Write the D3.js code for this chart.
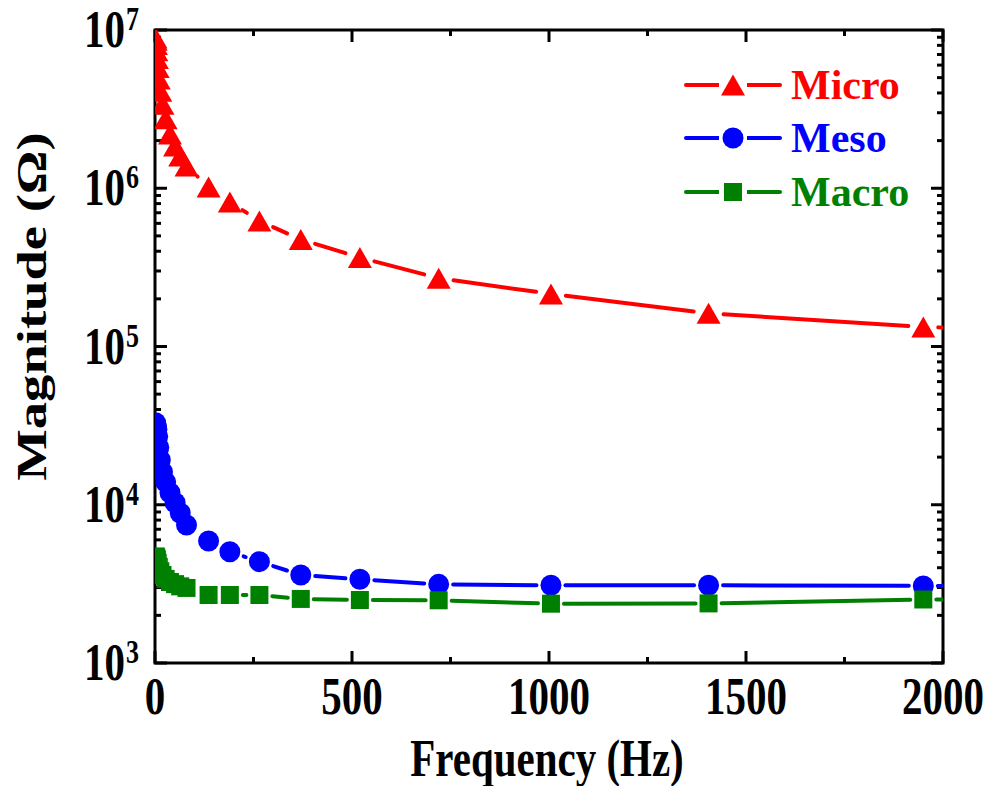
<!DOCTYPE html>
<html>
<head>
<meta charset="utf-8">
<script src="https://cdn.jsdelivr.net/npm/d3@7"></script>
<style>
  html, body { margin: 0; padding: 0; background: #fff; }
  svg text { font-family: "Liberation Serif", "Times New Roman", serif; font-weight: bold; }
</style>
</head>
<body>
<svg id="chart" width="985" height="786"></svg>
<script>
// frequency (Hz) of each measurement; last point lies past the axis end
const freq  = [1.2, 1.7, 2.4, 3.4, 4.8, 6.8, 9.6, 13.5, 19, 27, 38, 51, 64, 80,
               136, 190, 265, 370, 520, 720, 1005, 1405, 1950, 2750];
const micro = [8.9e6, 8.6e6, 8.1e6, 7.4e6, 6.6e6, 5.8e6, 4.9e6, 4.1e6, 3.4e6, 2.75e6, 2.2e6, 1.85e6, 1.6e6, 1.38e6,
               1.02e6, 8.2e5, 6.2e5, 4.75e5, 3.65e5, 2.7e5, 2.15e5, 1.62e5, 1.33e5, 1.15e5];
const meso  = [3.3e4, 3.25e4, 3.2e4, 3.1e4, 3.0e4, 2.7e4, 2.3e4, 1.92e4, 1.61e4, 1.39e4, 1.19e4, 1.03e4, 8.87e3, 7.45e3,
               5.9e3, 5.05e3, 4.37e3, 3.6e3, 3.38e3, 3.14e3, 3.10e3, 3.10e3, 3.07e3, 3.03e3];
const macro = [4.7e3, 4.7e3, 4.65e3, 4.6e3, 4.5e3, 4.3e3, 4.05e3, 3.8e3, 3.6e3, 3.4e3, 3.25e3, 3.15e3, 3.05e3, 2.98e3,
               2.69e3, 2.69e3, 2.69e3, 2.54e3, 2.50e3, 2.49e3, 2.37e3, 2.38e3, 2.52e3, 2.56e3];

const seriesNames = ['Micro', 'Meso', 'Macro'];
const xTicks = [0, 500, 1000, 1500, 2000];
const yExps  = [3, 4, 5, 6, 7];

const series = [
    { name: seriesNames[0], values: micro, color: '#ff0000', shape: 'triangle' },
    { name: seriesNames[1], values: meso,  color: '#0000ff', shape: 'circle' },
    { name: seriesNames[2], values: macro, color: '#008000', shape: 'square' },
];

const L = 155, R = 943, T = 30, B = 663;
const STRETCH = 1.3;   // axis text is drawn tall and narrow

const svg = d3.select('#chart');
const x = d3.scaleLinear().domain([0, 2000]).range([L, R]);
const y = d3.scaleLog().domain([1e3, 1e7]).range([B, T]);

svg.append('clipPath').attr('id', 'plot-clip')
    .append('rect').attr('x', L).attr('y', T).attr('width', R - L).attr('height', B - T);

// marker geometry
const markerR = { triangle: 11, circle: 10.5, square: 9 };
function markerPath(shape, cx, cy) {
    if (shape === 'triangle') {
        const w = 24, h = 21;
        return `M${cx},${cy - h / 2}L${cx + w / 2},${cy + h / 2}L${cx - w / 2},${cy + h / 2}Z`;
    }
    if (shape === 'square') {
        const s = 18;
        return `M${cx - s / 2},${cy - s / 2}h${s}v${s}h${-s}Z`;
    }
    const r = 10.5;
    return `M${cx - r},${cy}a${r},${r} 0 1,0 ${2 * r},0a${r},${r} 0 1,0 ${-2 * r},0Z`;
}

// ticks (inward, mirrored on all four sides)
const axisG = svg.append('g').attr('stroke', '#000').attr('stroke-width', 3).attr('fill', 'none');
function tick(x1, y1, x2, y2) {
    axisG.append('line').attr('x1', x1).attr('y1', y1).attr('x2', x2).attr('y2', y2);
}
const xMinor = d3.range(250, 2000, 500);
xTicks.forEach(v => { tick(x(v), B, x(v), B - 12); tick(x(v), T, x(v), T + 12); });
xMinor.forEach(v => { tick(x(v), B, x(v), B - 6); tick(x(v), T, x(v), T + 6); });
yExps.forEach(e => { const p = y(Math.pow(10, e)); tick(L, p, L + 12, p); tick(R, p, R - 12, p); });
yExps.slice(0, -1).forEach(e => {
    d3.range(2, 10).forEach(m => {
        const p = y(m * Math.pow(10, e));
        tick(L, p, L + 6, p); tick(R, p, R - 6, p);
    });
});
axisG.append('rect').attr('x', L).attr('y', T).attr('width', R - L).attr('height', B - T)
    .attr('stroke-linejoin', 'miter');

// series: lines with a gap around each marker, then markers
const plot = svg.append('g').attr('clip-path', 'url(#plot-clip)');
const GAP = 4;
series.forEach(s => {
    const pts = freq.map((f, i) => [x(f), y(s.values[i])]);
    const r = markerR[s.shape] + GAP;
    for (let i = 0; i < pts.length - 1; i++) {
        const [x0, y0] = pts[i], [x1, y1] = pts[i + 1];
        const d = Math.hypot(x1 - x0, y1 - y0);
        if (d <= 2 * r) continue;
        const ux = (x1 - x0) / d, uy = (y1 - y0) / d;
        plot.append('line')
            .attr('x1', x0 + ux * r).attr('y1', y0 + uy * r)
            .attr('x2', x1 - ux * r).attr('y2', y1 - uy * r)
            .attr('stroke', s.color).attr('stroke-width', 4).attr('stroke-linecap', 'round');
    }
});
series.forEach(s => {
    plot.append('g').selectAll('path')
        .data(freq.map((f, i) => [f, s.values[i]]))
        .join('path')
        .attr('d', d => markerPath(s.shape, x(d[0]), y(d[1])))
        .attr('fill', s.color);
});

// x tick labels
xTicks.forEach(v => {
    svg.append('text')
        .attr('transform', `translate(${x(v)},714) scale(1,${STRETCH})`)
        .attr('text-anchor', 'middle').attr('font-size', 41)
        .text(v);
});

// y tick labels 10^n
yExps.forEach(e => {
    const p = y(Math.pow(10, e));
    svg.append('text')
        .attr('transform', `translate(125,${p + 17}) scale(1,${STRETCH})`)
        .attr('text-anchor', 'end').attr('font-size', 41)
        .text('10');
    svg.append('text')
        .attr('transform', `translate(126,${p}) scale(1,${STRETCH})`)
        .attr('font-size', 26)
        .text(e);
});

// axis titles
svg.append('text')
    .attr('transform', `translate(${(L + R) / 2 - 2},776) scale(1,${STRETCH})`)
    .attr('text-anchor', 'middle').attr('font-size', 41)
    .text('Frequency (Hz)');
svg.append('text')
    .attr('transform', `translate(46,${(T + B) / 2 - 40}) rotate(-90) scale(${STRETCH},1)`)
    .attr('text-anchor', 'middle').attr('font-size', 42)
    .text('Magnitude (Ω)');

// legend
const legendY = [85, 138, 192];
series.forEach((s, i) => {
    const g = svg.append('g').attr('transform', `translate(0,${legendY[i]})`);
    g.append('line').attr('x1', 686).attr('x2', 780).attr('y1', 0).attr('y2', 0)
        .attr('stroke', s.color).attr('stroke-width', 4).attr('stroke-linecap', 'round');
    g.append('rect').attr('x', 719).attr('y', -13).attr('width', 28).attr('height', 26).attr('fill', '#fff');
    g.append('path').attr('d', markerPath(s.shape, 733, 0)).attr('fill', s.color);
    g.append('text').attr('x', 791).attr('y', 14).attr('font-size', 42)
        .attr('fill', s.color).text(s.name);
});
</script>
</body>
</html>
